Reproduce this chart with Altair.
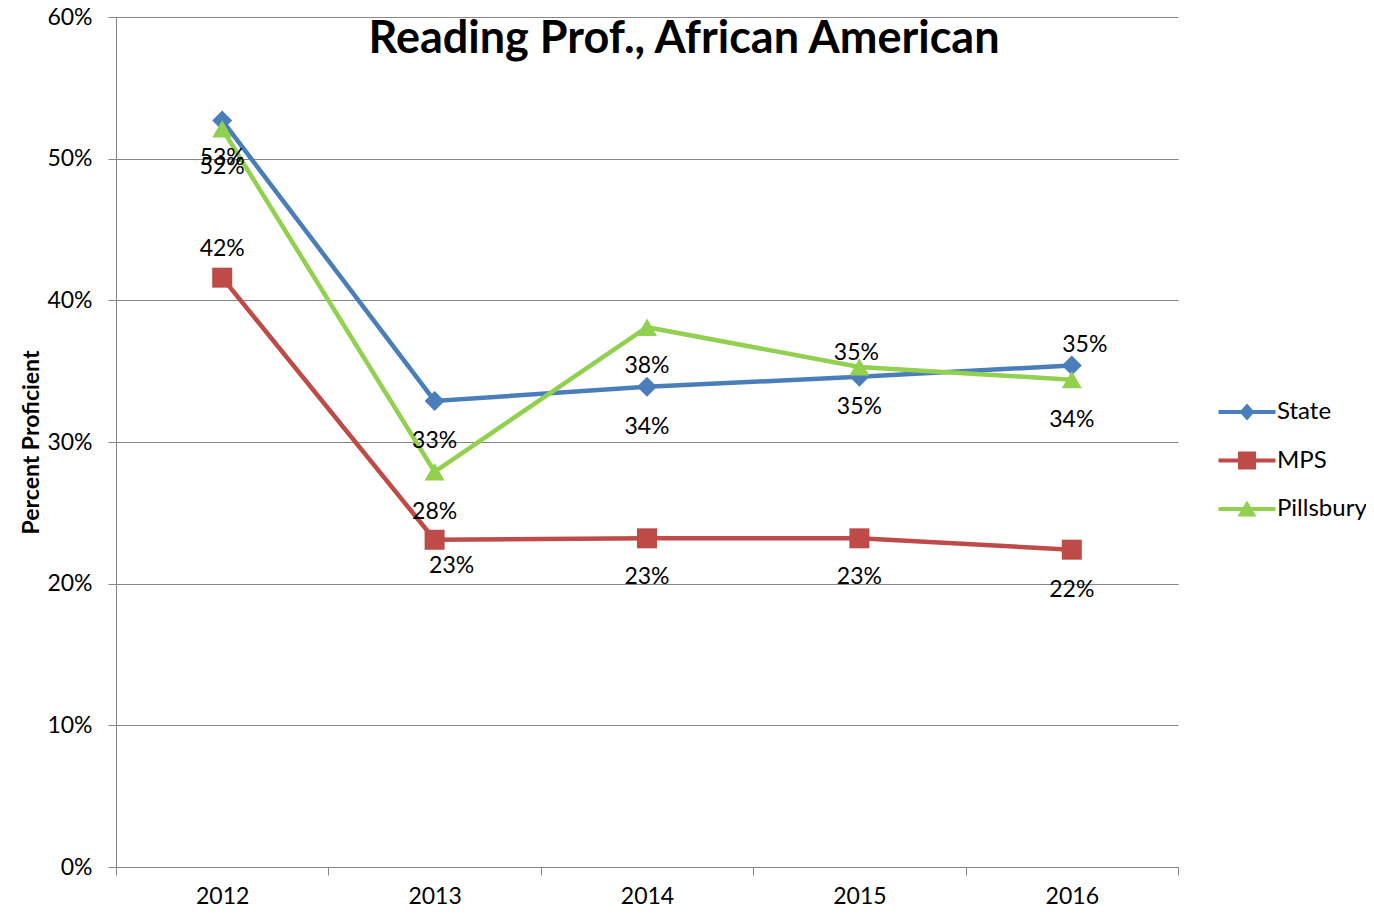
import altair as alt
import pandas as pd

years = ["2012", "2013", "2014", "2015", "2016"]
series_names = ["State", "MPS", "Pillsbury"]
state = [0.527, 0.329, 0.339, 0.346, 0.354]
mps = [0.416, 0.231, 0.232, 0.232, 0.224]
pillsbury = [0.521, 0.279, 0.381, 0.353, 0.344]

# label placement (pixels, styling only)
label_dy = {"State": [38, 40, 40, 30, -21], "MPS": [-29, 26, 39, 39, 40], "Pillsbury": [38, 40, 39, -14, 40]}
label_dx = {"State": [0, 0, 0, 0, 13], "MPS": [0, 17, 0, 0, 0], "Pillsbury": [0, 0, 0, -3, 0]}

colors = ["#4A7EBB", "#BE4B48", "#92D050"]
markers = {"State": "diamond", "MPS": "square", "Pillsbury": "triangle-up"}
legend_paths = [
    "M-5.7,-0.4H5.7V0.4H-5.7Z M0,-1.7L1.5,0L0,1.7L-1.5,0Z",
    "M-5.7,-0.4H5.7V0.4H-5.7Z M-1.8,-1.8H1.8V1.8H-1.8Z",
    "M-5.7,-0.4H5.7V0.4H-5.7Z M0,-1.7L1.9,1.5L-1.9,1.5Z",
]

rows = []
for name, vals in zip(series_names, [state, mps, pillsbury]):
    for i, (y, v) in enumerate(zip(years, vals)):
        rows.append({"year": y, "series": name, "value": v, "marker": markers[name],
                     "dy": label_dy[name][i], "dx": label_dx[name][i]})
df = pd.DataFrame(rows)

FONT = "Lato"
GRAY = "#868686"

x_enc = alt.X("year:O", bandPosition=0.5,
              scale=alt.Scale(type="band", paddingInner=0, paddingOuter=0),
              axis=alt.Axis(title=None, labelAngle=0, labelFontSize=23, labelFont=FONT,
                            labelColor="black", labelPadding=10, tickBand="extent",
                            tickSize=8, tickColor=GRAY, domainColor=GRAY, grid=False))
y_enc = alt.Y("value:Q", scale=alt.Scale(domain=[0, 0.6]),
              axis=alt.Axis(values=[0, 0.1, 0.2, 0.3, 0.4, 0.5, 0.6], format=".0%",
                            title="Percent Proficient", titleFont=FONT, titleFontSize=23,
                            titleFontWeight="bold", titleColor="black", titlePadding=3,
                            labelFontSize=23, labelFont=FONT, labelColor="black",
                            labelPadding=16, tickSize=8, tickColor=GRAY, domainColor=GRAY,
                            grid=True, gridColor=GRAY))
color_enc = alt.Color("series:N", scale=alt.Scale(domain=series_names, range=colors),
                      legend=alt.Legend(title=None, orient="none", legendX=1119, legendY=383,
                                        labelFont=FONT, labelFontSize=24, labelColor="black",
                                        labelOffset=18, rowPadding=24.5, symbolSize=100,
                                        symbolStrokeWidth=0))

base = alt.Chart(df)

lines = base.mark_line(strokeWidth=4.5).encode(x=x_enc, y=y_enc, color=color_enc,
                                               order=alt.Order("year:O"))
points = base.mark_point(filled=True, opacity=1, size=400).encode(
    x=x_enc, y=y_enc, color=color_enc, shape=alt.Shape("marker:N", scale=None))
legend_layer = base.mark_point(filled=True, opacity=1, size=100).encode(
    x=x_enc, y=y_enc, color=color_enc,
    shape=alt.Shape("series:N", scale=alt.Scale(domain=series_names, range=legend_paths))
).transform_filter("datum.value < -1")

label_layers = []
offsets = sorted(set(zip(df["dx"], df["dy"])))
for dx, dy in offsets:
    label_layers.append(
        base.transform_filter(f"datum.dx == {dx} && datum.dy == {dy}")
        .mark_text(font=FONT, fontSize=23, color="black", baseline="middle",
                   dx=int(dx), dy=int(dy))
        .encode(x=x_enc, y=y_enc, text=alt.Text("value:Q", format=".0%"))
    )

title = alt.Chart(pd.DataFrame({"t": ["Reading Prof., African American"]})).mark_text(
    font=FONT, fontSize=45, fontWeight="bold", color="black", baseline="middle"
).encode(text="t:N", x=alt.value(568), y=alt.value(22))

chart = alt.layer(lines, points, legend_layer, *label_layers, title).properties(
    width=1062, height=850,
    autosize=alt.AutoSizeParams(type="none"),
    padding={"left": 108, "top": 9, "right": 188, "bottom": 40},
).configure_view(stroke=None)

chart.save("out.html", embed_options={"renderer": "svg", "actions": False})
